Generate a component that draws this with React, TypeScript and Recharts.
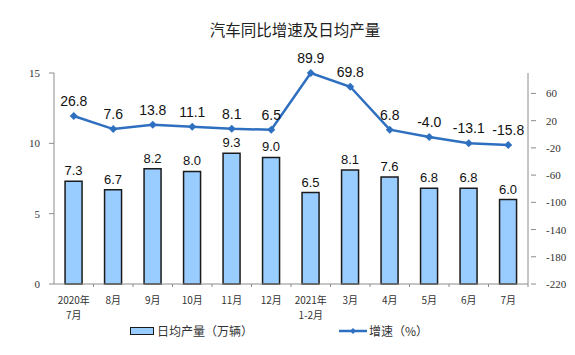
import { Bar, ComposedChart, LabelList, Line, XAxis, YAxis } from "recharts";

const months = [
  "2020年\n7月",
  "8月",
  "9月",
  "10月",
  "11月",
  "12月",
  "2021年\n1-2月",
  "3月",
  "4月",
  "5月",
  "6月",
  "7月",
];
const dailyOutput = [7.3, 6.7, 8.2, 8.0, 9.3, 9.0, 6.5, 8.1, 7.6, 6.8, 6.8, 6.0];
const growth = [26.8, 7.6, 13.8, 11.1, 8.1, 6.5, 89.9, 69.8, 6.8, -4.0, -13.1, -15.8];
const leftTicks = [0, 5, 10, 15];
const rightTicks = [-220, -180, -140, -100, -60, -20, 20, 60];

const data = months.map((m, i) => ({
  month: m,
  output: dailyOutput[i],
  growth: growth[i],
}));

const AXIS = "#8c8c8c";
const BAR_FILL = "#99ccff";
const LINE = "#2e6fc0";
const CJK = "'Noto Sans CJK SC', sans-serif";
const SERIF = "'Liberation Serif', serif";
const SANS = "'Liberation Sans', Arial, sans-serif";

const MonthTick = ({ x, y, payload }: any) => {
  const lines = String(payload.value).split("\n");
  const half = 474 / 12 / 2;
  return (
    <g>
      <line x1={x + half} y1={y - 8} x2={x + half} y2={y - 5} stroke={AXIS} />
      <text x={x} y={y + 4} textAnchor="middle" fontSize={10} fill="#333" fontFamily={CJK}>
        {lines.map((l, i) => (
          <tspan key={i} x={x} dy={i === 0 ? 8 : 15}>
            {l}
          </tspan>
        ))}
      </text>
    </g>
  );
};

const RightTick = ({ x, y, payload }: any) => (
  <g>
    <line x1={x - 5} y1={y} x2={x} y2={y} stroke={AXIS} />
    <text x={x + 10} y={y + 4} fontSize={11} fill="#333" fontFamily={SERIF}>
      {payload.value}
    </text>
  </g>
);

const Diamond = ({ cx, cy }: any) => (
  <path
    d={`M${cx},${cy - 4}L${cx + 4},${cy}L${cx},${cy + 4}L${cx - 4},${cy}Z`}
    fill={LINE}
  />
);

export default function App() {
  return (
    <div style={{ position: "absolute", left: 0, top: 0, width: 575, height: 355, background: "#fff" }}>
      <div
        style={{
          position: "absolute",
          top: 18,
          width: 590,
          textAlign: "center",
          fontFamily: CJK,
          fontSize: 15.5,
          color: "#222",
        }}
      >
        汽车同比增速及日均产量
      </div>
      <ComposedChart
        width={575}
        height={355}
        data={data}
        margin={{ top: 73, right: 0, bottom: 0, left: 0 }}
        barCategoryGap="28%"
      >
        <XAxis
          dataKey="month"
          height={71}
          axisLine={{ stroke: AXIS }}
          tickLine={false}
          interval={0}
          tick={<MonthTick />}
        />
        <YAxis
          yAxisId="left"
          width={54}
          domain={[0, 15]}
          ticks={leftTicks}
          axisLine={{ stroke: AXIS }}
          tickLine={{ stroke: AXIS }}
          tickSize={5}
          tickMargin={9}
          tick={{ fontSize: 11, fill: "#333", fontFamily: SERIF }}
        />
        <YAxis
          yAxisId="right"
          orientation="right"
          width={47}
          domain={[-220, 90]}
          ticks={rightTicks}
          axisLine={{ stroke: AXIS }}
          tickLine={false}
          tick={<RightTick />}
        />
        <Bar
          yAxisId="left"
          dataKey="output"
          fill={BAR_FILL}
          stroke="#1a1a1a"
          strokeWidth={1.5}
          isAnimationActive={false}
        >
          <LabelList
            dataKey="output"
            position="top"
            offset={6}
            formatter={(v: any) => Number(v).toFixed(1)}
            style={{ fontSize: 13, fill: "#111", fontFamily: SANS }}
          />
        </Bar>
        <Line
          yAxisId="right"
          dataKey="growth"
          stroke={LINE}
          strokeWidth={2.5}
          dot={<Diamond />}
          activeDot={false}
          isAnimationActive={false}
        >
          <LabelList
            dataKey="growth"
            position="top"
            offset={10}
            formatter={(v: any) => Number(v).toFixed(1)}
            style={{ fontSize: 14, fill: "#111", fontFamily: SANS }}
          />
        </Line>
      </ComposedChart>
      <div
        style={{
          position: "absolute",
          top: 322,
          left: 130,
          display: "flex",
          alignItems: "center",
          fontFamily: CJK,
          fontSize: 12,
          color: "#333",
        }}
      >
        <span style={{ display: "inline-block", width: 22, height: 6, background: BAR_FILL, border: "1.5px solid #1a1a1a", marginRight: 3 }} />
        <span>日均产量（万辆）</span>
        <span style={{ display: "inline-block", width: 86 }} />
        <svg width={28} height={10} style={{ marginRight: 2 }}>
          <line x1={0} y1={5} x2={28} y2={5} stroke={LINE} strokeWidth={2.5} />
          <path d="M14,2L17,5L14,8L11,5Z" fill={LINE} />
        </svg>
        <span>增速（%）</span>
      </div>
    </div>
  );
}
